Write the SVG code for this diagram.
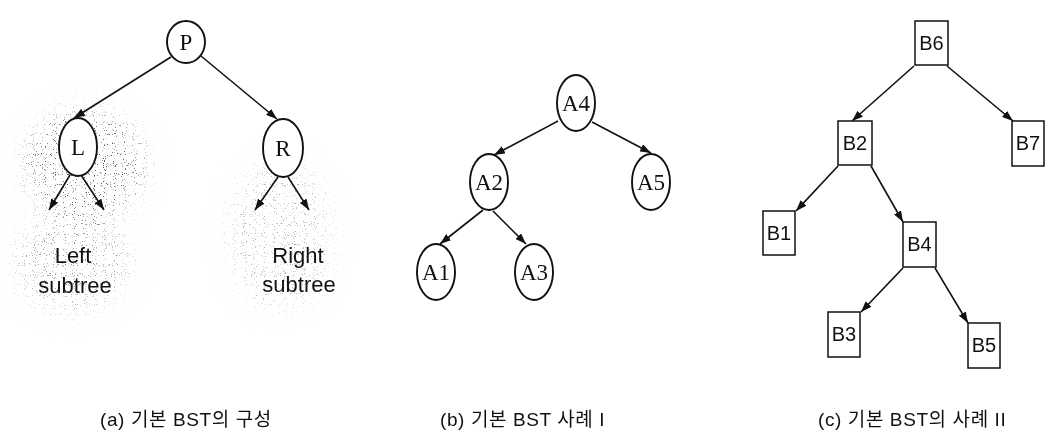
<svg xmlns="http://www.w3.org/2000/svg" width="1049" height="439" viewBox="0 0 1049 439">
  <style>
    .oval { fill: #fff; stroke: #111; stroke-width: 1.9; }
    .box { fill: #fff; stroke: #111; stroke-width: 1.5; }
    .edge { fill: none; stroke: #111; stroke-width: 1.6; marker-end: url(#head); }
    .serif { font-family: "Liberation Serif", "DejaVu Serif", serif; font-size: 23px; fill: #111; text-anchor: middle; }
    .sans { font-family: "Liberation Sans", Arial, sans-serif; font-size: 20px; fill: #111; text-anchor: middle; }
    .note { font-family: "Liberation Sans", Arial, sans-serif; font-size: 22px; fill: #111; text-anchor: middle; }
    .cap { font-family: "Liberation Sans", "Noto Sans CJK KR", sans-serif; font-size: 19px; letter-spacing: 0.6px; fill: #111; }
  </style>
  <defs>
    <marker id="head" markerUnits="userSpaceOnUse" markerWidth="11" markerHeight="8" refX="11" refY="4" orient="auto">
      <path d="M0,0 L11,4 L0,8 z" fill="#111"/>
    </marker>
    <!-- sparse grey stipple, faded out by a blurred copy of the shape -->
    <filter id="stipple" x="-40%" y="-40%" width="180%" height="180%">
      <feGaussianBlur in="SourceAlpha" stdDeviation="12" result="mask"/>
      <feTurbulence type="fractalNoise" baseFrequency="0.9" numOctaves="1" seed="7" result="noise"/>
      <feColorMatrix in="noise" type="matrix" values="0 0 0 0 0.62  0 0 0 0 0.62  0 0 0 0 0.62  12 0 0 0 -7.5" result="dots"/>
      <feComposite in="dots" in2="mask" operator="arithmetic" k1="1" k2="0" k3="0" k4="0"/>
    </filter>
  </defs>

  <!-- stippled background behind the subtrees of (a) -->
  <g id="stipple-bg" filter="url(#stipple)">
    <ellipse cx="85" cy="165" rx="60" ry="55" fill="#000" opacity="0.65"/>
    <ellipse cx="72" cy="262" rx="58" ry="50" fill="#000" opacity="0.4"/>
    <ellipse cx="280" cy="235" rx="52" ry="75" fill="#000" opacity="0.3"/>
  </g>

  <!-- connectors -->
  <g id="connectors">
    <line class="edge" x1="171" y1="57" x2="74" y2="118"/>
    <line class="edge" x1="201" y1="56" x2="277" y2="119"/>
    <line class="edge" x1="70" y1="175" x2="49" y2="210"/>
    <line class="edge" x1="81" y1="175" x2="104" y2="210"/>
    <line class="edge" x1="278" y1="177" x2="255" y2="210"/>
    <line class="edge" x1="288" y1="177" x2="309" y2="210"/>

    <line class="edge" x1="558" y1="121" x2="494" y2="155"/>
    <line class="edge" x1="592" y1="122" x2="651" y2="153"/>
    <line class="edge" x1="483" y1="210" x2="440" y2="244"/>
    <line class="edge" x1="493" y1="211" x2="526" y2="244"/>

    <line class="edge" x1="914" y1="66" x2="852" y2="121"/>
    <line class="edge" x1="947" y1="66" x2="1013" y2="121"/>
    <line class="edge" x1="838" y1="166" x2="796" y2="211"/>
    <line class="edge" x1="871" y1="166" x2="903" y2="222"/>
    <line class="edge" x1="903" y1="268" x2="861" y2="312"/>
    <line class="edge" x1="935" y1="268" x2="968" y2="323"/>
  </g>

  <!-- (a) structure of a BST -->
  <g id="node-P"><ellipse class="oval" cx="186" cy="42" rx="19" ry="21"/><text class="serif" x="186" y="50">P</text></g>
  <g id="node-L"><ellipse class="oval" cx="78" cy="147" rx="19" ry="29"/><text class="serif" x="78" y="155">L</text></g>
  <g id="node-R"><ellipse class="oval" cx="283" cy="148" rx="20" ry="29"/><text class="serif" x="283" y="156">R</text></g>
  <g id="label-left"><text class="note" x="73" y="263">Left</text><text class="note" x="75" y="293">subtree</text></g>
  <g id="label-right"><text class="note" x="298" y="263">Right</text><text class="note" x="299" y="292">subtree</text></g>

  <!-- (b) example I -->
  <g id="node-A4"><ellipse class="oval" cx="576" cy="103" rx="19" ry="28"/><text class="serif" x="576" y="111">A4</text></g>
  <g id="node-A2"><ellipse class="oval" cx="489" cy="182" rx="19" ry="28"/><text class="serif" x="489" y="190">A2</text></g>
  <g id="node-A5"><ellipse class="oval" cx="651" cy="182" rx="19" ry="28"/><text class="serif" x="651" y="190">A5</text></g>
  <g id="node-A1"><ellipse class="oval" cx="436" cy="272" rx="19" ry="28"/><text class="serif" x="436" y="280">A1</text></g>
  <g id="node-A3"><ellipse class="oval" cx="534" cy="272" rx="19" ry="28"/><text class="serif" x="534" y="280">A3</text></g>

  <!-- (c) example II -->
  <g id="node-B6"><rect class="box" x="915" y="21" width="33" height="44"/><text class="sans" x="931.5" y="50">B6</text></g>
  <g id="node-B2"><rect class="box" x="838" y="121" width="34" height="44"/><text class="sans" x="855" y="150">B2</text></g>
  <g id="node-B7"><rect class="box" x="1012" y="121" width="32" height="45"/><text class="sans" x="1028" y="150">B7</text></g>
  <g id="node-B1"><rect class="box" x="763" y="211" width="32" height="44"/><text class="sans" x="779" y="240">B1</text></g>
  <g id="node-B4"><rect class="box" x="903" y="222" width="33" height="45"/><text class="sans" x="919.5" y="251">B4</text></g>
  <g id="node-B3"><rect class="box" x="828" y="312" width="32" height="45"/><text class="sans" x="844" y="341">B3</text></g>
  <g id="node-B5"><rect class="box" x="968" y="323" width="32" height="45"/><text class="sans" x="984" y="352">B5</text></g>

  <!-- captions -->
  <g id="captions">
    <text class="cap" x="100" y="426">(a) 기본 BST의 구성</text>
    <text class="cap" x="440" y="426">(b) 기본 BST 사례 I</text>
    <text class="cap" x="818" y="426">(c) 기본 BST의 사례 II</text>
  </g>
</svg>
